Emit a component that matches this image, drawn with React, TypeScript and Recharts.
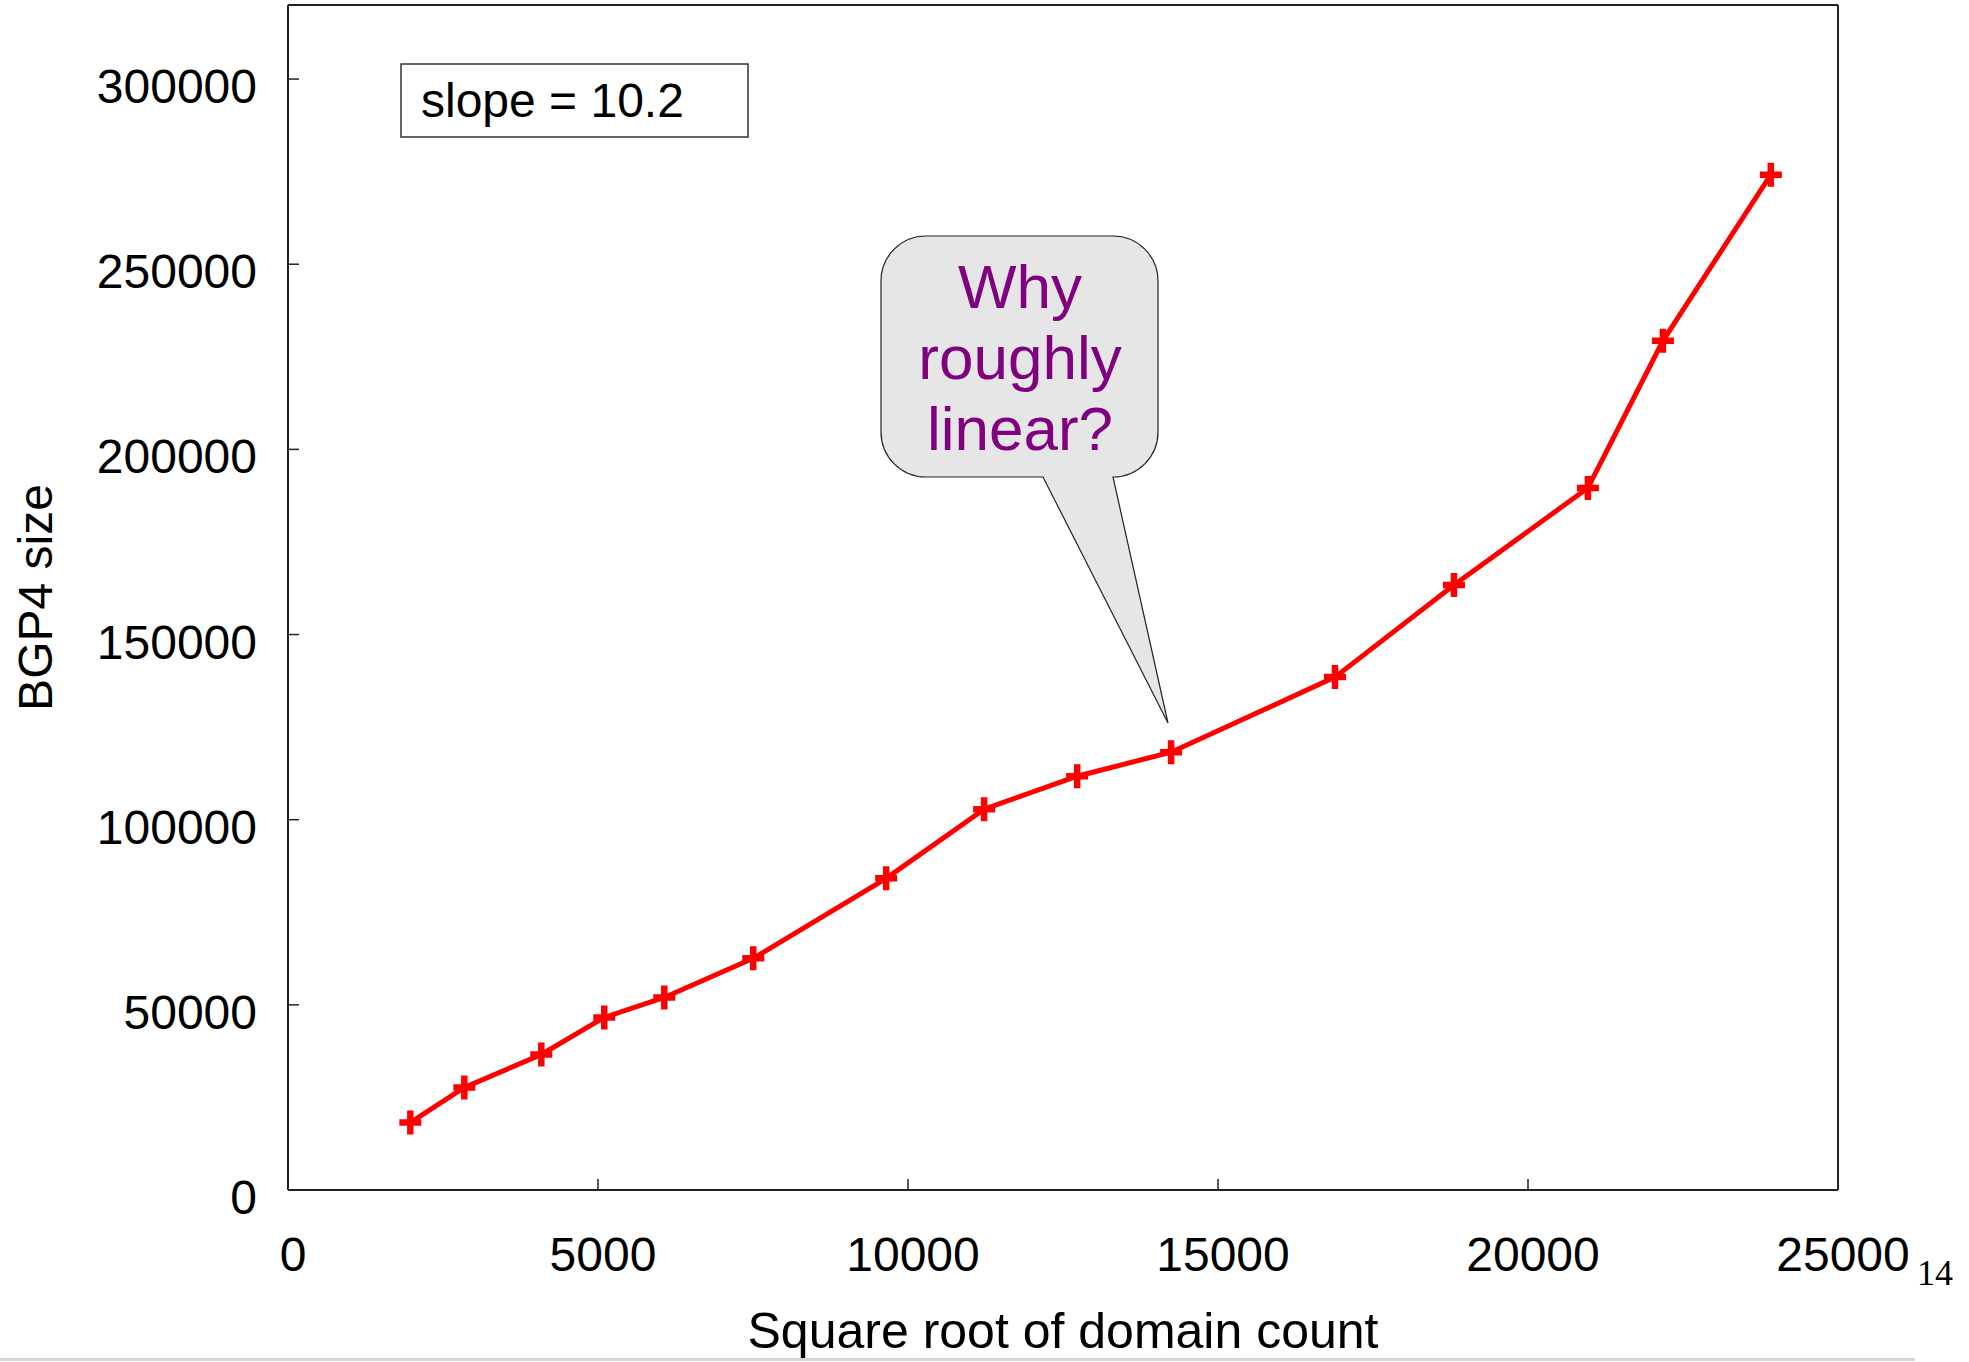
import React from 'react'
import { LineChart, Line, XAxis, YAxis } from 'recharts'

// square root of domain count vs BGP4 table size
const sqrtDomains = [1973, 2844, 4086, 5101, 6069, 7504, 9648, 11228, 12728, 14243, 16887, 18806, 20966, 22176, 23917]
const bgpSize = [18220, 27680, 36600, 46600, 52000, 62550, 84170, 102820, 111740, 118230, 138500, 163370, 189590, 229320, 274190]

const xTicks = [0, 5000, 10000, 15000, 20000, 25000]
const yTicks = [0, 50000, 100000, 150000, 200000, 250000, 300000]
const frameXTicks = [5000, 10000, 15000, 20000]
const frameYTicks = [50000, 100000, 150000, 200000, 250000, 300000]

const data = sqrtDomains.map((x, i) => ({ x, size: bgpSize[i] }))

const FONT = '"Liberation Sans", Arial, sans-serif'
const FRAME = '#222'

function PlusDot(props: any) {
  const { cx, cy, index } = props
  if (cx == null || cy == null) return null
  return (
    <path
      key={`dot-${index}`}
      d={`M${cx - 11},${cy} H${cx + 11} M${cx},${cy - 12} V${cy + 12}`}
      stroke="#ff0000"
      strokeWidth={6.5}
      fill="none"
    />
  )
}

export default function App() {
  return (
    <div style={{ position: 'absolute', left: 0, top: 0, width: 1969, height: 1362, background: '#fff', fontFamily: FONT }}>
      <LineChart width={1969} height={1362} data={data} margin={{ top: 4, right: 130, bottom: 0, left: 0 }}>
        <XAxis
          xAxisId="x"
          dataKey="x"
          type="number"
          domain={[0, 25000]}
          allowDataOverflow
          ticks={xTicks}
          height={172}
          tickSize={-11}
          tickMargin={58}
          axisLine={{ stroke: FRAME, strokeWidth: 2 }}
          tickLine={{ stroke: FRAME, strokeWidth: 1.5 }}
          tick={{ fill: '#000', fontSize: 48, fontFamily: FONT, dx: 5 }}
          label={{ value: 'Square root of domain count', position: 'insideBottom', offset: 14, fill: '#000', fontSize: 50, fontFamily: FONT }}
        />
        <XAxis
          xAxisId="top"
          orientation="top"
          type="number"
          domain={[0, 25000]}
          allowDataOverflow
          ticks={frameXTicks}
          height={1}
          tickSize={-11}
          tick={false}
          axisLine={{ stroke: FRAME, strokeWidth: 2 }}
          tickLine={{ stroke: FRAME, strokeWidth: 1.5 }}
        />
        <YAxis
          yAxisId="y"
          type="number"
          domain={[0, 320000]}
          allowDataOverflow
          ticks={yTicks}
          width={288}
          tickSize={-11}
          tickMargin={42}
          axisLine={{ stroke: FRAME, strokeWidth: 2 }}
          tickLine={{ stroke: FRAME, strokeWidth: 1.5 }}
          tick={{ fill: '#000', fontSize: 48, fontFamily: FONT, dy: 7 }}
          label={{ value: 'BGP4 size', position: 'center', angle: -90, dx: -109, fill: '#000', fontSize: 48, fontFamily: FONT }}
        />
        <YAxis
          yAxisId="right"
          orientation="right"
          type="number"
          domain={[0, 320000]}
          allowDataOverflow
          ticks={frameYTicks}
          width={1}
          tickSize={-11}
          tick={false}
          axisLine={{ stroke: FRAME, strokeWidth: 2 }}
          tickLine={{ stroke: FRAME, strokeWidth: 1.5 }}
        />
        <Line
          xAxisId="x"
          yAxisId="y"
          type="linear"
          dataKey="size"
          stroke="#ff0000"
          strokeWidth={5}
          dot={PlusDot}
          activeDot={false}
          isAnimationActive={false}
        />
      </LineChart>

      <svg width={1969} height={1362} style={{ position: 'absolute', left: 0, top: 0, pointerEvents: 'none' }}>
        {/* slope box */}
        <rect x={401} y={64} width={347} height={73} fill="#fff" stroke="#333" strokeWidth={1.5} />
        <text x={421} y={117} fontSize={48} fontFamily={FONT} fill="#000">slope = 10.2</text>

        {/* speech bubble */}
        <path
          d="M926,236 H1113 A45,45 0 0 1 1158,281 V432 A45,45 0 0 1 1113,477 L1168,723 L1043,477 H926 A45,45 0 0 1 881,432 V281 A45,45 0 0 1 926,236 Z"
          fill="#e6e6e6"
          stroke="#222"
          strokeWidth={1.2}
        />
        <g fontSize={62} fontFamily={FONT} fill="#800080" textAnchor="middle">
          <text x={1020} y={308}>Why</text>
          <text x={1020} y={379}>roughly</text>
          <text x={1020} y={450}>linear?</text>
        </g>

        {/* slide page number and footer line */}
        <text x={1917} y={1285} fontSize={36} fontFamily='"Liberation Serif", "Times New Roman", serif' fill="#000">14</text>
        <rect x={0} y={1358} width={1915} height={3} fill="#d6d6d6" />
      </svg>
    </div>
  )
}
